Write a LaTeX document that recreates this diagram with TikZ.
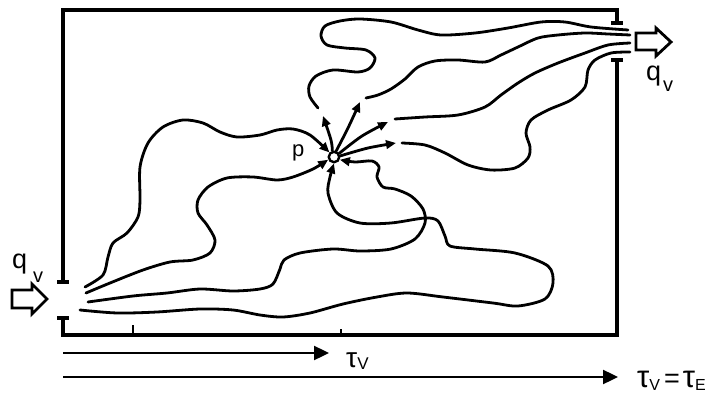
\documentclass[tikz,border=0pt]{standalone}
\usepackage{fontspec}
\setmainfont{Liberation Sans}
\usetikzlibrary{arrows.meta}
\begin{document}
\begin{tikzpicture}[x=1pt,y=-1pt,
  wall/.style={line width=3.2pt},
  tickmark/.style={line width=1.8pt},
  flow/.style={line width=2.8pt, line cap=round, line join=round},
  intip/.style={-{Triangle[length=10pt,width=8.5pt]}},
  timearrow/.style={line width=2.4pt, -{Triangle[length=15pt,width=14pt]}},
  blockarrow/.style={line width=2.8pt, line join=miter, fill=white},
  lbl/.style={inner sep=0pt, anchor=base west}
]
\useasboundingbox (0,0) rectangle (718,396);

% point p
\node[circle, draw, line width=2.4pt, minimum size=10.5pt, inner sep=0pt, fill=white] (p) at (334,157) {};
\node[lbl] (plabel) at (292,156) {\fontsize{22}{22}\selectfont p};

% walls
\draw[wall] (57,282) -- (69,282) (63,282) -- (63,10) -- (617,10) -- (617,23) (611,23) -- (623,23);
\draw[wall] (57,318) -- (69,318) (63,318) -- (63,335) -- (617,335) -- (617,60) (611,60) -- (623,60);
\draw[tickmark] (133,335) -- (133,325) (341,335) -- (341,329);

% block arrows
\draw[blockarrow] (12,290) -- (32,290) -- (32,284) -- (47,299) -- (32,314) -- (32,308) -- (12,308) -- cycle;
\draw[blockarrow] (636,33) -- (656,33) -- (656,28) -- (671,42) -- (656,56) -- (656,50) -- (636,50) -- cycle;

% flow labels
\node[lbl] (qin) at (12,268) {\fontsize{27}{27}\selectfont q\hspace{6pt}\raisebox{-14pt}{\fontsize{20}{20}\selectfont v}};
\node[lbl] (qout) at (646,81) {\fontsize{27}{27}\selectfont q\hspace{2pt}\raisebox{-11pt}{\fontsize{20}{20}\selectfont v}};

% incoming streamlines
\draw[flow,intip] plot[smooth] coordinates {(85,287) (103,275) (108,257) (113,243) (127,233) (138,217) (140,200) (140,167) (148,143) (163,127) (183,120) (203,123) (220,132) (237,137) (260,135) (277,130) (293,129) (310,135) (p.135)};
\draw[flow,intip] plot[smooth] coordinates {(86,293) (110,283) (143,270) (170,262) (193,260) (210,253) (215,240) (207,225) (198,213) (198,200) (208,187) (227,178) (253,177) (277,180) (293,177) (313,169) (p.205)};
\draw[flow,intip] plot[smooth] coordinates {(88,302) (133,296) (167,293) (200,289) (233,291) (260,289) (273,284) (280,269) (284,260) (300,253) (333,249) (360,251) (391,249) (415,239) (425,223) (423,209) (411,196) (395,189) (383,187) (377,177) (379,167) (372,161) (355,162) (p.-25)};
\draw[flow,intip] plot[smooth] coordinates {(80,310) (117,313) (157,312) (200,309) (233,310) (260,315) (283,317) (310,313) (343,304) (377,297) (407,293) (443,297) (493,303) (518,306) (545,299) (553,283) (548,266) (515,253) (475,249) (450,246) (445,236) (438,221) (425,218) (391,223) (360,223) (337,213) (328,193) (330,177) (p.-90)};

% outgoing streamlines
\coordinate (e1) at (323,116);
\coordinate (f1) at (360,102);
\coordinate (g1) at (388,122);
\coordinate (h1) at (396,143);
\draw[flow,intip] plot[smooth] coordinates {(p.105) (331,140) (e1)};
\draw[flow,intip] plot[smooth] coordinates {(p.70) (348,128) (f1)};
\draw[flow,intip] plot[smooth] coordinates {(p.35) (362,136) (g1)};
\draw[flow,intip] plot[smooth] coordinates {(p.10) (368,148) (h1)};

\draw[flow] plot[smooth] coordinates {(318,108) (310,97) (309,86) (316,76) (333,70) (358,72) (370,68) (375,58) (366,50) (345,48) (327,45) (321,36) (325,26) (340,21) (360,19) (391,22) (418,30) (441,35) (475,33) (508,28) (541,22) (565,22) (591,27) (628,30)};
\draw[flow] plot[smooth] coordinates {(366,98) (378,95) (391,89) (405,79) (418,67) (435,61) (458,60) (485,62) (501,55) (518,47) (538,38) (558,35) (585,33) (608,34) (630,35)};
\draw[flow] plot[smooth] coordinates {(395,119) (425,117) (458,115) (485,107) (501,95) (518,83) (535,73) (558,63) (585,53) (608,45) (630,43)};
\draw[flow] plot[smooth] coordinates {(402,143) (425,145) (445,153) (468,165) (491,170) (515,168) (528,158) (530,147) (526,133) (531,120) (548,110) (571,100) (585,87) (588,70) (595,60) (611,53) (630,52)};

% time axes
\coordinate (t0) at (63,353);
\coordinate (t1) at (329,353);
\coordinate (s0) at (63,377);
\coordinate (s1) at (618,377);
\draw[timearrow] (t0) -- (t1);
\draw[timearrow] (s0) -- (s1);
\node[lbl] (tauv) at (346,367) {\fontsize{28}{28}\selectfont τ\raisebox{-2pt}{\fontsize{17}{17}\selectfont V}};
\node[lbl] (taue) at (637,387) {\fontsize{31}{31}\selectfont τ\raisebox{-3pt}{\fontsize{16}{16}\selectfont V}\hspace{4pt}{\fontsize{27}{27}\selectfont =}\hspace{3pt}τ\raisebox{-3pt}{\fontsize{16}{16}\selectfont E}};
\end{tikzpicture}
\end{document}
